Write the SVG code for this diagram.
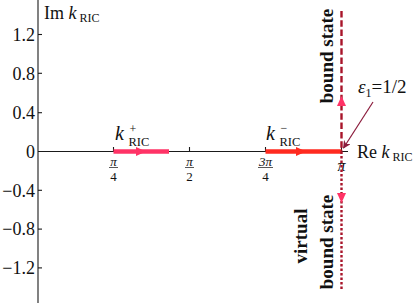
<svg xmlns="http://www.w3.org/2000/svg" width="415" height="303" viewBox="0 0 415 303">
<style>
text{font-family:"Liberation Serif","Times New Roman",serif;fill:#111}
.tl{font-size:18px;text-anchor:end}
.fr{font-size:13px;text-anchor:middle;font-style:italic}
.fd{font-size:13px;text-anchor:middle}
.it{font-style:italic}
.sub{font-size:12px}
.bold{font-weight:bold;font-size:19px;text-anchor:middle}
.axis{stroke:#1a1a1a;stroke-width:1.1;fill:none}
</style>
<defs>
<marker id="ah" viewBox="0 0 10 10" refX="9" refY="5" markerWidth="8" markerHeight="8" orient="auto" markerUnits="userSpaceOnUse">
<path d="M0,0 L10,5 L0,10 L3,5 z" fill="#8b1c3c"/>
</marker>
</defs>
<g id="axes">
<line class="axis" x1="38" y1="0" x2="38" y2="303"/>
<line class="axis" x1="38" y1="151.5" x2="348" y2="151.5"/>
<g class="axis">
<line x1="38" y1="34.5" x2="42" y2="34.5"/>
<line x1="38" y1="73.3" x2="42" y2="73.3"/>
<line x1="38" y1="112.7" x2="42" y2="112.7"/>
<line x1="38" y1="190.3" x2="42" y2="190.3"/>
<line x1="38" y1="229.1" x2="42" y2="229.1"/>
<line x1="38" y1="267.9" x2="42" y2="267.9"/>
<line x1="113.5" y1="151.5" x2="113.5" y2="147"/>
<line x1="189.5" y1="151.5" x2="189.5" y2="147"/>
<line x1="265.5" y1="151.5" x2="265.5" y2="147"/>
<line x1="341.5" y1="151.5" x2="341.5" y2="147"/>
</g>
<text class="tl" x="35" y="40.5">1.2</text>
<text class="tl" x="35" y="79.5">0.8</text>
<text class="tl" x="35" y="118.5">0.4</text>
<text class="tl" x="35" y="157.5">0</text>
<text class="tl" x="35" y="196.5">−0.4</text>
<text class="tl" x="35" y="235">−0.8</text>
<text class="tl" x="35" y="274">−1.2</text>
<text x="44" y="19" font-size="18">Im <tspan class="it">k</tspan><tspan class="sub" dy="3"> RIC</tspan></text>
<text x="357" y="158" font-size="18">Re <tspan class="it">k</tspan><tspan class="sub" dy="3"> RIC</tspan></text>
<g>
<text class="fr" x="113.5" y="166">π</text>
<line x1="109" y1="167.5" x2="118" y2="167.5" stroke="#111" stroke-width="0.7"/>
<text class="fd" x="113.5" y="181">4</text>
<text class="fr" x="189.5" y="166">π</text>
<line x1="185" y1="167.5" x2="194" y2="167.5" stroke="#111" stroke-width="0.7"/>
<text class="fd" x="189.5" y="181">2</text>
<text class="fr" x="265.5" y="166">3π</text>
<line x1="258" y1="167.5" x2="273" y2="167.5" stroke="#111" stroke-width="0.7"/>
<text class="fd" x="265.5" y="181">4</text>
<text x="341.5" y="171" font-size="16" font-style="italic" text-anchor="middle">π</text>
</g>
</g>
<g id="connectors">
<line x1="113.5" y1="151.5" x2="169" y2="151.5" stroke="#ff3366" stroke-width="4.5"/>
<path d="M136,147 L146,151.5 L136,156 z" fill="#ff3366"/>
<line x1="265.5" y1="151.5" x2="341.5" y2="151.5" stroke="#ff2a1f" stroke-width="4.5"/>
<path d="M296,147 L306,151.5 L296,156 z" fill="#ff2a1f"/>
<line x1="341.5" y1="11" x2="341.5" y2="151.5" stroke="#a8142a" stroke-width="2.4" stroke-dasharray="6.5 2.8"/>
<line x1="341.5" y1="151.5" x2="341.5" y2="291" stroke="#a8142a" stroke-width="2.4" stroke-dasharray="2.5 2"/>
<path d="M337,106 L341.5,96 L346,106 z" fill="#ff3366"/>
<path d="M337,193 L341.5,203 L346,193 z" fill="#ff3366"/>
<line x1="373" y1="102" x2="343.5" y2="148" stroke="#8b1c3c" stroke-width="1.2" marker-end="url(#ah)"/>
</g>
<g id="k-plus">
<text x="115" y="140" font-size="20"><tspan class="it">k</tspan></text>
<text x="129.5" y="133" font-size="12">+</text>
<text x="128.5" y="146" font-size="12.5">RIC</text>
</g>
<g id="k-minus">
<text x="266" y="140" font-size="20"><tspan class="it">k</tspan></text>
<text x="280.5" y="132" font-size="12">−</text>
<text x="279.5" y="146" font-size="12.5">RIC</text>
</g>
<g id="bound-state">
<text class="bold" transform="translate(333,56) rotate(-90)">bound state</text>
</g>
<g id="virtual-bound-state">
<text class="bold" transform="translate(307,236) rotate(-90)">virtual</text>
<text class="bold" transform="translate(333,242) rotate(-90)">bound state</text>
</g>
<g id="epsilon">
<text x="358" y="93" font-size="19"><tspan class="it">ε</tspan><tspan font-size="12" dy="4">1</tspan><tspan dy="-4">=1/2</tspan></text>
</g>
</svg>
